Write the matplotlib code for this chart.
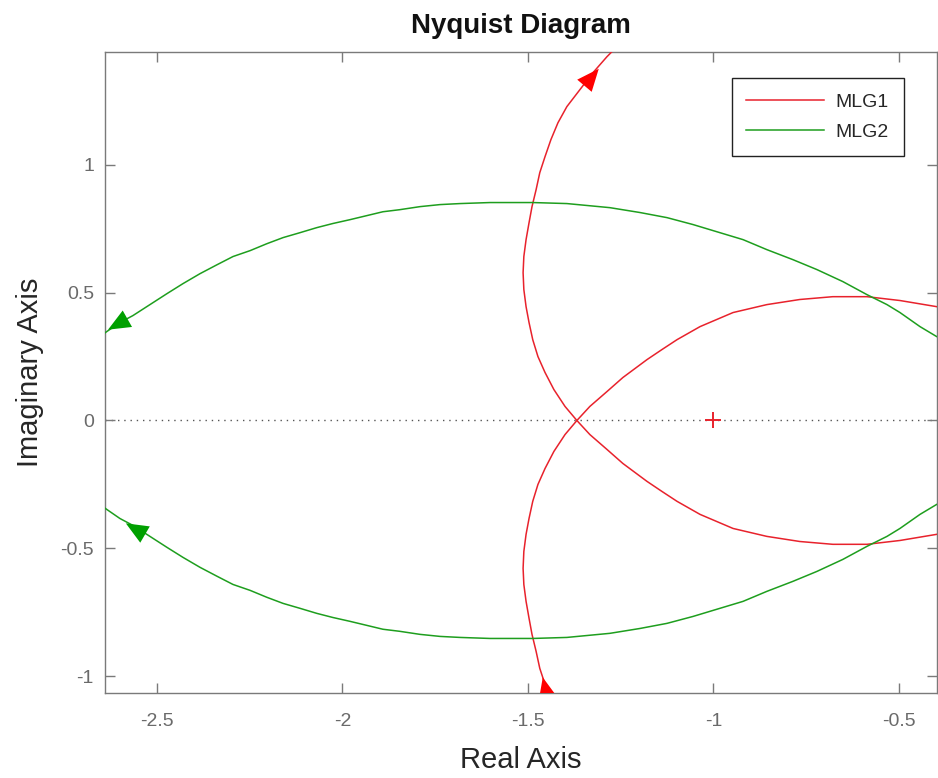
import numpy as np
import matplotlib.pyplot as plt

plt.rcParams['font.family'] = ['Liberation Sans', 'DejaVu Sans']
plt.rcParams['axes.unicode_minus'] = False

# MLG1, one branch (top of plot -> real-axis crossing -> lower right);
# the other branch is its complex conjugate
mlg1_re = [-1.252, -1.274, -1.287, -1.325, -1.360, -1.395, -1.419, -1.438, -1.454,
           -1.468, -1.478, -1.489, -1.497, -1.505, -1.511, -1.513, -1.511, -1.505,
           -1.497, -1.487, -1.473, -1.454, -1.430, -1.400, -1.368,
           -1.333, -1.287, -1.244, -1.179, -1.139, -1.098, -1.036, -0.947, -0.856,
           -0.767, -0.678, -0.586, -0.497, -0.398, -0.380]
mlg1_im = [1.477, 1.441, 1.422, 1.359, 1.293, 1.227, 1.164, 1.098, 1.031,
           0.969, 0.902, 0.836, 0.773, 0.707, 0.641, 0.578, 0.512, 0.445,
           0.383, 0.316, 0.250, 0.188, 0.121, 0.055, 0.000,
           -0.055, -0.113, -0.168, -0.238, -0.277, -0.316, -0.367, -0.422, -0.453,
           -0.473, -0.484, -0.484, -0.469, -0.445, -0.440]

# MLG2, upper branch (left edge -> right edge)
mlg2_re = [-2.654, -2.635, -2.600, -2.565, -2.519, -2.473, -2.430, -2.384, -2.338,
           -2.295, -2.249, -2.204, -2.160, -2.115, -2.069, -2.026, -1.980, -1.934,
           -1.891, -1.846, -1.791, -1.737, -1.683, -1.602, -1.522, -1.487, -1.395,
           -1.279, -1.198, -1.125, -1.055, -0.991, -0.920, -0.856, -0.786, -0.721,
           -0.651, -0.586, -0.532, -0.497, -0.443, -0.398, -0.380]
mlg2_im = [0.328, 0.348, 0.383, 0.410, 0.453, 0.496, 0.535, 0.574, 0.609,
           0.641, 0.664, 0.691, 0.715, 0.734, 0.754, 0.770, 0.785, 0.801,
           0.816, 0.824, 0.836, 0.844, 0.848, 0.852, 0.852, 0.852, 0.848,
           0.832, 0.813, 0.793, 0.766, 0.738, 0.707, 0.668, 0.629, 0.590,
           0.543, 0.492, 0.453, 0.422, 0.367, 0.328, 0.318]

# direction arrows: (tip re, tip im, tail re, tail im)
mlg1_arrows = [(-1.309, 1.375, -1.395, 1.227),
               (-1.460, -1.004, -1.446, -1.090)]
mlg2_arrows = [(-2.632, 0.355, -2.565, 0.410),
               (-2.584, -0.402, -2.473, -0.496)]

red = '#e8222c'
green = '#1e9e1e'

fig = plt.figure(figsize=(9.38, 7.78), dpi=100)
ax = fig.add_axes([0.112, 0.109, 0.887, 0.824])

re1 = np.array(mlg1_re)
im1 = np.array(mlg1_im)
re2 = np.array(mlg2_re)
im2 = np.array(mlg2_im)

ax.axhline(0, color='#555555', linestyle=(0, (1, 3.5)), linewidth=1.0, zorder=1)

ax.plot(re1, im1, color=red, linewidth=1.1, label='MLG1', zorder=3)
ax.plot(re1, -im1, color=red, linewidth=1.1, zorder=3)
ax.plot(re2, im2, color=green, linewidth=1.1, label='MLG2', zorder=3)
ax.plot(re2, -im2, color=green, linewidth=1.1, zorder=3)

# critical point
ax.plot([-1], [0], marker='+', color=red, markersize=12, markeredgewidth=1.4,
        linestyle='none', zorder=4)

for arrows, col in [(mlg1_arrows, '#ff0000'), (mlg2_arrows, '#00a000')]:
    for tx, ty, sx, sy in arrows:
        ann = ax.annotate('', xy=(tx, ty), xytext=(sx, sy),
                          arrowprops=dict(arrowstyle='-|>,head_length=0.8,head_width=0.34',
                                          color=col, lw=0, shrinkA=0, shrinkB=0,
                                          mutation_scale=20),
                          zorder=5)
        ann.arrow_patch.set_clip_box(ax.bbox)
        ann.arrow_patch.set_clip_on(True)

ax.set_xlim(-2.64, -0.397)
ax.set_ylim(-1.066, 1.44)
ax.set_xticks([-2.5, -2, -1.5, -1, -0.5])
ax.set_xticklabels(['-2.5', '-2', '-1.5', '-1', '-0.5'])
ax.set_yticks([-1, -0.5, 0, 0.5, 1])
ax.set_yticklabels(['-1', '-0.5', '0', '0.5', '1'])

for s in ax.spines.values():
    s.set_color('#7a7a7a')
    s.set_linewidth(1.0)
ax.tick_params(direction='in', length=7, width=1, color='#7a7a7a',
               labelcolor='#6a6a6a', labelsize=14, top=True, right=True)
ax.tick_params(axis='x', pad=14)
ax.tick_params(axis='y', pad=8)

ax.set_title('Nyquist Diagram', fontsize=20, fontweight='bold', color='#111111', pad=14)
ax.set_xlabel('Real Axis', fontsize=21, color='#262626', labelpad=12)
ax.set_ylabel('Imaginary Axis', fontsize=21, color='#262626', labelpad=12)

leg = ax.legend(loc='upper right', bbox_to_anchor=(0.960, 0.959), borderaxespad=0,
                fancybox=False, framealpha=1, edgecolor='#222222', fontsize=14,
                handlelength=4.0, handletextpad=0.6, borderpad=0.76, labelspacing=0.66)
leg.get_frame().set_linewidth(1.0)
for t in leg.get_texts():
    t.set_color('#262626')

fig.savefig('out.png', dpi=100)
